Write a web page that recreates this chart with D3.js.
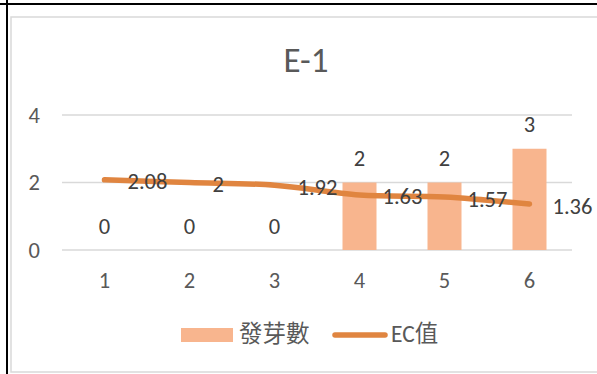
<!DOCTYPE html>
<html>
<head>
<meta charset="utf-8">
<script src="https://cdn.jsdelivr.net/npm/d3@7"></script>
<style>
  html, body { margin: 0; padding: 0; background: #fff; }
  svg { display: block; }
  text { font-family: Carlito, Calibri, "Noto Sans CJK TC", sans-serif; }
</style>
</head>
<body>
<div id="chart"></div>
<script>
// Chart data
const categories = ["1","2","3","4","5","6"];
const sprouts = [0, 0, 0, 2, 2, 3];          // 發芽數 (bars)
const ecValues = [2.08, 2, 1.92, 1.63, 1.57, 1.36]; // EC值 (line)
const yTicks = [0, 2, 4];
const seriesNames = ["發芽數", "EC值"];

const barColor = "#F8B58E";
const lineColor = "#E08540";

const width = 597, height = 374;
const svg = d3.select("#chart").append("svg")
  .attr("width", width)
  .attr("height", height);

// page borders (table cell lines)
svg.append("line").attr("x1",0).attr("y1",4).attr("x2",width).attr("y2",4)
  .attr("stroke","#000").attr("stroke-width",2);
svg.append("line").attr("x1",7).attr("y1",0).attr("x2",7).attr("y2",height)
  .attr("stroke","#000").attr("stroke-width",2);

// chart area border
svg.append("rect")
  .attr("x",11).attr("y",17).attr("width",width).attr("height",355)
  .attr("fill","#fff").attr("stroke","#D9D9D9").attr("stroke-width",1.5);

// title
svg.append("text")
  .attr("x",306).attr("y",72)
  .attr("text-anchor","middle")
  .style("font-size","35px")
  .attr("fill","#595959")
  .text("E-1");

const x = d3.scaleBand().domain(categories).range([62, 572]);
const y = d3.scaleLinear().domain([0, 4]).range([250, 115]);
const barW = x.bandwidth() * 0.4;
const cx = c => x(c) + x.bandwidth() / 2;

// gridlines + y labels
yTicks.forEach(t => {
  svg.append("line")
    .attr("x1",62).attr("x2",572)
    .attr("y1",y(t)).attr("y2",y(t))
    .attr("stroke","#D9D9D9").attr("stroke-width",1.5);
  svg.append("text")
    .attr("x",40).attr("y",y(t))
    .attr("text-anchor","end")
    .attr("dominant-baseline","central")
    .style("font-size","22.5px")
    .attr("fill","#595959")
    .text(t);
});

// x labels
categories.forEach(c => {
  svg.append("text")
    .attr("x",cx(c)).attr("y",280.5)
    .attr("text-anchor","middle")
    .attr("dominant-baseline","central")
    .style("font-size","22.5px")
    .attr("fill","#595959")
    .text(c);
});

// bars
svg.selectAll(".bar").data(sprouts).enter().append("rect")
  .attr("x",(d,i)=> cx(categories[i]) - barW/2)
  .attr("y",d=> y(d))
  .attr("width",barW)
  .attr("height",d=> y(0) - y(d))
  .attr("fill",barColor);

// bar labels
sprouts.forEach((d,i)=>{
  svg.append("text")
    .attr("x",cx(categories[i]))
    .attr("y",y(d) - 24)
    .attr("text-anchor","middle")
    .attr("dominant-baseline","central")
    .style("font-size","22.5px")
    .attr("fill","#404040")
    .text(d);
});

// EC line (smoothed)
const line = d3.line()
  .x((d,i)=> cx(categories[i]))
  .y(d=> y(d))
  .curve(d3.curveCardinal.tension(0));

svg.append("path")
  .datum(ecValues)
  .attr("d",line)
  .attr("fill","none")
  .attr("stroke",lineColor)
  .attr("stroke-width",5.5)
  .attr("stroke-linecap","round")
  .attr("stroke-linejoin","round");

// line labels (right of point)
ecValues.forEach((d,i)=>{
  svg.append("text")
    .attr("x",cx(categories[i]) + 23)
    .attr("y",y(d) + 2)
    .attr("dominant-baseline","central")
    .style("font-size","22.5px")
    .attr("fill","#404040")
    .text(d);
});

// legend
svg.append("rect")
  .attr("x",181).attr("y",328).attr("width",52).attr("height",14)
  .attr("fill",barColor);
svg.append("text")
  .attr("x",239).attr("y",334)
  .attr("dominant-baseline","central")
  .style("font-size","23.5px")
  .attr("fill","#595959")
  .text(seriesNames[0]);
svg.append("line")
  .attr("x1",335).attr("x2",385).attr("y1",335).attr("y2",335)
  .attr("stroke",lineColor).attr("stroke-width",5.5)
  .attr("stroke-linecap","round");
svg.append("text")
  .attr("x",391).attr("y",334)
  .attr("dominant-baseline","central")
  .style("font-size","23.5px")
  .attr("fill","#595959")
  .text(seriesNames[1]);
</script>
</body>
</html>
